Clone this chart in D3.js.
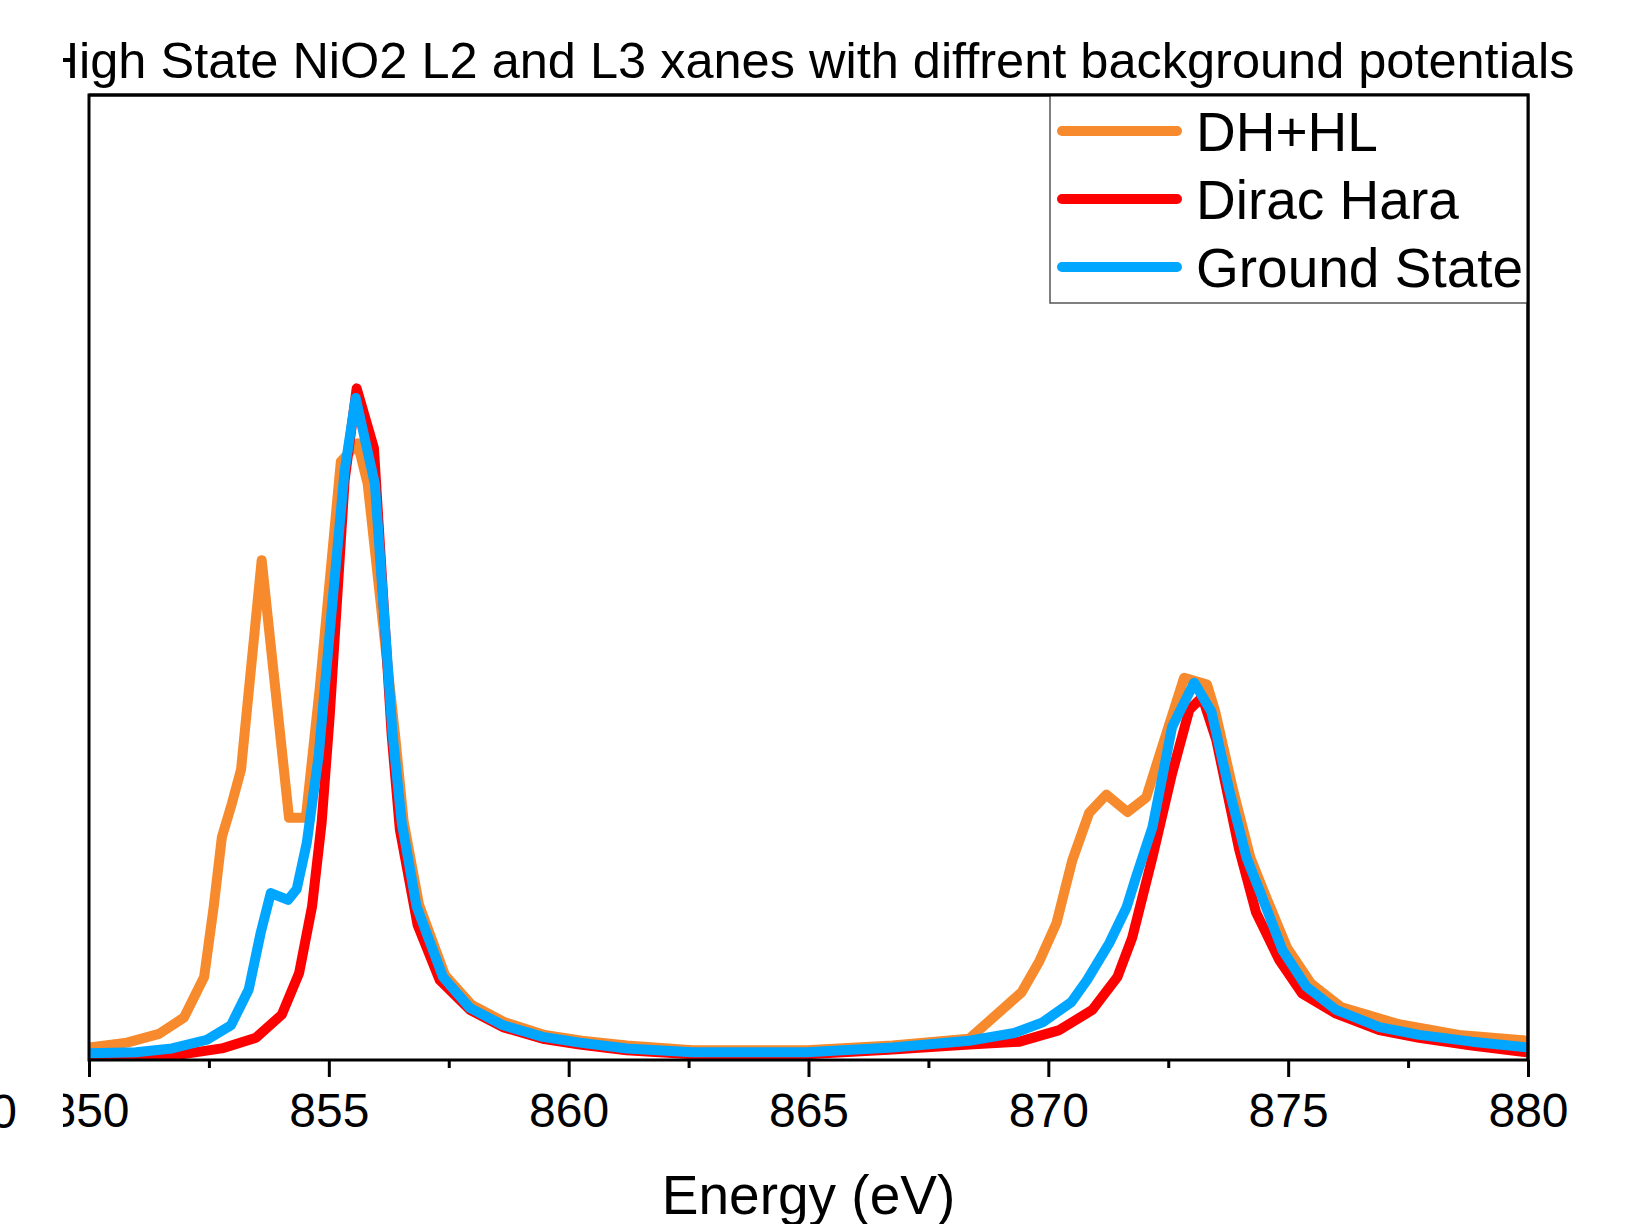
<!DOCTYPE html>
<html>
<head>
<meta charset="utf-8">
<script src="https://cdn.jsdelivr.net/npm/d3@7"></script>
<style>
  body { margin: 0; background: #fff; }
  svg { display: block; font-family: Arial, "Liberation Sans", sans-serif; }
</style>
</head>
<body>
<svg id="chart" width="1633" height="1224"></svg>
<script>

// DATA (energy in eV, intensity in arbitrary units)

const majorTicks = [850, 855, 860, 865, 870, 875, 880];
const minorTicks = [852.5, 857.5, 862.5, 867.5, 872.5, 877.5];

const seriesNames = ["DH+HL", "Dirac Hara", "Ground State"];
const seriesColors = ["#F68A2D", "#FF0000", "#00A6FF"];

const dhhl = [
	[850.00, 0.013], [850.79, 0.018], [851.46, 0.027], [851.98, 0.044], [852.40, 0.086],
	[852.60, 0.159], [852.77, 0.231], [852.98, 0.266], [853.17, 0.301], [853.60, 0.518],
	[854.17, 0.251], [854.52, 0.251], [854.81, 0.385], [855.25, 0.620], [855.60, 0.639],
	[855.81, 0.597], [856.38, 0.337], [856.56, 0.247], [856.88, 0.161], [857.42, 0.088],
	[857.98, 0.057], [858.67, 0.039], [859.50, 0.026], [860.27, 0.020], [861.21, 0.015],
	[862.58, 0.010], [864.96, 0.010], [866.75, 0.015], [868.35, 0.022], [869.44, 0.070],
	[869.81, 0.102], [870.17, 0.142], [870.50, 0.207], [870.85, 0.256], [871.21, 0.275],
	[871.65, 0.257], [872.04, 0.272], [872.35, 0.321], [872.83, 0.396], [873.31, 0.389],
	[873.48, 0.361], [873.85, 0.280], [874.21, 0.210], [874.48, 0.176], [874.98, 0.116],
	[875.48, 0.079], [876.10, 0.055], [877.31, 0.037], [878.56, 0.026], [879.98, 0.020]
];

const diracHara = [
	[850.00, 0.001], [851.04, 0.003], [851.81, 0.005], [852.77, 0.012], [853.48, 0.023],
	[854.02, 0.047], [854.38, 0.090], [854.65, 0.159], [854.85, 0.246], [855.02, 0.358],
	[855.33, 0.601], [855.58, 0.696], [855.94, 0.634], [856.31, 0.337], [856.48, 0.239],
	[856.85, 0.140], [857.31, 0.083], [857.94, 0.052], [858.63, 0.034], [859.46, 0.022],
	[860.23, 0.016], [861.21, 0.010], [862.58, 0.006], [864.96, 0.006], [866.75, 0.011],
	[868.35, 0.016], [869.40, 0.019], [870.23, 0.031], [870.92, 0.052], [871.44, 0.086],
	[871.75, 0.127], [872.17, 0.210], [872.58, 0.297], [872.94, 0.363], [873.21, 0.376],
	[873.50, 0.332], [873.98, 0.218], [874.33, 0.153], [874.81, 0.104], [875.29, 0.069],
	[876.00, 0.048], [876.90, 0.031], [877.73, 0.023], [878.83, 0.015], [879.98, 0.008]
];

const groundState = [
	[850.00, 0.007], [850.98, 0.008], [851.73, 0.012], [852.46, 0.021], [852.96, 0.036],
	[853.33, 0.073], [853.58, 0.132], [853.79, 0.173], [854.15, 0.166], [854.33, 0.177],
	[854.54, 0.225], [854.79, 0.316], [855.08, 0.477], [855.33, 0.611], [855.56, 0.686],
	[855.96, 0.597], [856.33, 0.337], [856.52, 0.246], [856.83, 0.159], [857.38, 0.086],
	[857.94, 0.054], [858.63, 0.036], [859.46, 0.024], [860.23, 0.018], [861.21, 0.012],
	[862.58, 0.008], [864.96, 0.008], [866.75, 0.013], [868.35, 0.020], [869.29, 0.028],
	[869.88, 0.039], [870.48, 0.060], [870.81, 0.083], [871.27, 0.121], [871.63, 0.158],
	[871.83, 0.190], [872.17, 0.241], [872.58, 0.345], [873.04, 0.391], [873.40, 0.361],
	[873.77, 0.280], [874.13, 0.210], [874.40, 0.176], [874.88, 0.114], [875.38, 0.076],
	[876.00, 0.052], [876.90, 0.034], [877.73, 0.026], [878.83, 0.019], [879.98, 0.013]
];

const allSeries = [dhhl, diracHara, groundState];

// LAYOUT

const plotLeft = 89, plotRight = 1528, plotTop = 95, plotBottom = 1060;

const svg = d3.select("#chart");

const x = d3.scaleLinear().domain([850, 880]).range([plotLeft, plotRight]);
const y = d3.scaleLinear().domain([0, 1]).range([plotBottom, plotTop]);

svg.append("defs").append("clipPath")
	.attr("id", "plot-clip")
	.append("rect")
	.attr("x", plotLeft).attr("y", plotTop)
	.attr("width", plotRight - plotLeft).attr("height", plotBottom - plotTop);

// curves (ground state drawn last so it sits on top)
const line = d3.line()
	.x((d) => x(d[0]))
	.y((d) => y(d[1]));

svg.append("g")
	.attr("clip-path", "url(#plot-clip)")
	.selectAll("path")
	.data(allSeries)
	.enter()
	.append("path")
	.attr("d", line)
	.attr("fill", "none")
	.attr("stroke", (d, i) => seriesColors[i])
	.attr("stroke-width", 10)
	.attr("stroke-linejoin", "round")
	.attr("stroke-linecap", "round");

// bottom axis, major ticks with labels and minor ticks without
const majorAxis = d3.axisBottom(x)
	.tickValues(majorTicks)
	.tickSize(17)
	.tickSizeOuter(0)
	.tickPadding(16)
	.tickFormat(d3.format("d"));

const minorAxis = d3.axisBottom(x)
	.tickValues(minorTicks)
	.tickSize(8)
	.tickSizeOuter(0)
	.tickFormat("");

const gMajor = svg.append("g").attr("transform", "translate(0," + plotBottom + ")").call(majorAxis);
const gMinor = svg.append("g").attr("transform", "translate(0," + plotBottom + ")").call(minorAxis);

[gMajor, gMinor].forEach((g) => {
	g.select(".domain").remove();
	g.selectAll(".tick line").attr("stroke", "#000").attr("stroke-width", 3);
});

gMajor.selectAll(".tick text")
	.attr("fill", "#000")
	.style("font-size", "48px")
	.style("font-family", "Arial, 'Liberation Sans', sans-serif")
	.attr("dy", "0.71em");

// frame
svg.append("rect")
	.attr("x", plotLeft).attr("y", plotTop)
	.attr("width", plotRight - plotLeft).attr("height", plotBottom - plotTop)
	.attr("fill", "none")
	.attr("stroke", "#000")
	.attr("stroke-width", 3);

// legend
const legend = svg.append("g");

legend.append("rect")
	.attr("x", 1050).attr("y", plotTop)
	.attr("width", plotRight - 1050).attr("height", 303 - plotTop)
	.attr("fill", "#fff")
	.attr("stroke", "#555")
	.attr("stroke-width", 1.5);

const items = legend.selectAll("g.item")
	.data(seriesNames)
	.enter()
	.append("g")
	.attr("class", "item")
	.attr("transform", (d, i) => "translate(0," + (131 + i * 68) + ")");

items.append("line")
	.attr("x1", 1062).attr("x2", 1177)
	.attr("stroke", (d, i) => seriesColors[i])
	.attr("stroke-width", 10)
	.attr("stroke-linecap", "round");

items.append("text")
	.attr("x", 1196)
	.attr("y", 20)
	.style("font-size", "55px")
	.text((d) => d);

// redraw top/right frame edges over the legend box
svg.append("path")
	.attr("d", "M" + plotLeft + "," + plotTop + "H" + plotRight + "V" + plotBottom)
	.attr("fill", "none")
	.attr("stroke", "#000")
	.attr("stroke-width", 3);

// title and axis label
svg.append("text")
	.attr("x", (plotLeft + plotRight) / 2)
	.attr("y", 78)
	.attr("text-anchor", "middle")
	.style("font-size", "50.5px")
	.text("High State NiO2 L2 and L3 xanes with diffrent background potentials");

svg.append("text")
	.attr("x", (plotLeft + plotRight) / 2)
	.attr("y", 1214)
	.attr("text-anchor", "middle")
	.style("font-size", "55px")
	.text("Energy (eV)");

// leftover y tick label at the very edge of the cropped figure
svg.append("text")
	.attr("x", 17)
	.attr("y", 1128)
	.attr("text-anchor", "end")
	.style("font-size", "48px")
	.text("0");

// the source figure is masked between the edge label and the plot
svg.append("rect")
	.attr("x", 16).attr("y", 0)
	.attr("width", 47).attr("height", 1224)
	.attr("fill", "#fff");

</script>
</body>
</html>
